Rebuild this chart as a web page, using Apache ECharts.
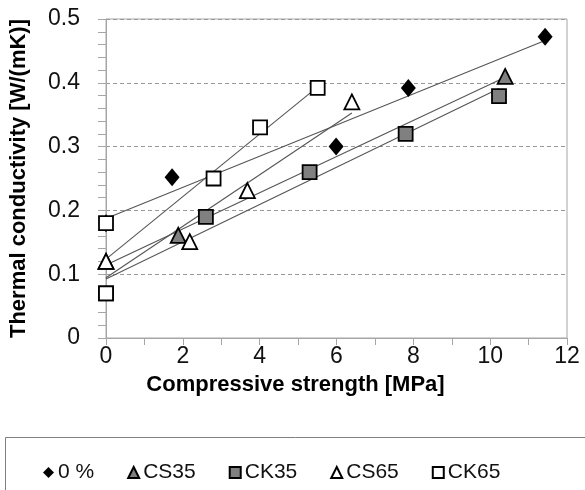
<!DOCTYPE html>
<html><head><meta charset="utf-8">
<script src="https://cdn.jsdelivr.net/npm/echarts@6/dist/echarts.min.js"></script>
<style>html,body{margin:0;padding:0;background:#fff}#c{width:585px;height:490px}</style>
</head><body><div id="c"></div>
<script>
// Data
var seriesNames = ['0 %', 'CS35', 'CK35', 'CS65', 'CK65'];
var zeroX = [0, 1.72, 5.99, 7.87, 11.43];
var zeroY = [0.18, 0.252, 0.30, 0.392, 0.472];
var cs35X = [0, 1.88, 10.39];
var cs35Y = [0.12, 0.161, 0.41];
var ck35X = [0, 2.60, 5.30, 7.80, 10.23];
var ck35Y = [0.07, 0.19, 0.26, 0.32, 0.379];
var cs65X = [0, 2.18, 3.68, 6.40];
var cs65Y = [0.12, 0.151, 0.231, 0.370];
var ck65X = [0, 0, 2.80, 4.01, 5.51];
var ck65Y = [0.18, 0.07, 0.25, 0.33, 0.392];
var xTicks = [0, 2, 4, 6, 8, 10, 12];
var yTicks = [0, 0.1, 0.2, 0.3, 0.4, 0.5];

function pairs(xs, ys) { return xs.map(function (x, i) { return [x, ys[i]]; }); }
// Linear (least squares) trendline spanning the data's x range
function trend(xs, ys) {
  var n = xs.length, mx = 0, my = 0;
  for (var i = 0; i < n; i++) { mx += xs[i]; my += ys[i]; }
  mx /= n; my /= n;
  var sxx = 0, sxy = 0;
  for (i = 0; i < n; i++) { sxx += (xs[i] - mx) * (xs[i] - mx); sxy += (xs[i] - mx) * (ys[i] - my); }
  var b = sxy / sxx, a = my - b * mx;
  var lo = Math.min.apply(null, xs), hi = Math.max.apply(null, xs);
  return [[lo, a + b * lo], [hi, a + b * hi]];
}

var sets = [
  { name: seriesNames[0], xs: zeroX, ys: zeroY, symbol: 'diamond', size: [15, 18], fill: '#000', bw: 0 },
  { name: seriesNames[1], xs: cs35X, ys: cs35Y, symbol: 'triangle', size: 15, fill: '#808080', bw: 1.8 },
  { name: seriesNames[2], xs: ck35X, ys: ck35Y, symbol: 'rect', size: 14, fill: '#808080', bw: 1.8 },
  { name: seriesNames[3], xs: cs65X, ys: cs65Y, symbol: 'triangle', size: 15, fill: '#fff', bw: 1.8 },
  { name: seriesNames[4], xs: ck65X, ys: ck65Y, symbol: 'rect', size: 14, fill: '#fff', bw: 1.8 }
];

var series = [];
sets.forEach(function (s) {
  series.push({
    type: 'line', data: trend(s.xs, s.ys), symbol: 'none', silent: true, z: 2,
    lineStyle: { color: '#555', width: 1.1 }
  });
});
sets.forEach(function (s, i) {
  series.push({
    name: s.name, type: 'scatter', data: pairs(s.xs, s.ys), symbol: s.symbol, symbolSize: s.size, z: 3 + i,
    itemStyle: { color: s.fill, borderColor: '#000', borderWidth: s.bw, opacity: 1 }
  });
});

var font = 'Liberation Sans, Arial, sans-serif';
var chart = echarts.init(document.getElementById('c'), null, { renderer: 'canvas' });
chart.setOption({
  animation: false,
  backgroundColor: '#fff',
  grid: { left: 106, right: 18, top: 19, bottom: 152, show: true, borderColor: '#a6a6a6', borderWidth: 1,
    containLabel: false, outerBoundsMode: 'none' },
  xAxis: {
    type: 'value', min: xTicks[0], max: xTicks[xTicks.length - 1], interval: 2,
    name: 'Compressive strength [MPa]', nameLocation: 'middle', nameGap: 36,
    nameTextStyle: { fontFamily: font, fontSize: 22, fontWeight: 'bold', color: '#000', padding: [0, 82, 0, 0] },
    axisLine: { show: true, lineStyle: { color: '#a6a6a6', width: 1 } },
    axisTick: { show: true, length: 7, lineStyle: { color: '#a6a6a6' } },
    minorTick: { show: true, splitNumber: 2, length: 7, lineStyle: { color: '#a6a6a6' } },
    splitLine: { show: false },
    axisLabel: { fontFamily: font, fontSize: 23, color: '#111', margin: 7 }
  },
  yAxis: {
    type: 'value', min: yTicks[0], max: yTicks[yTicks.length - 1], interval: 0.1,
    name: 'Thermal conductivity [W/(mK)]', nameLocation: 'middle', nameGap: 76, nameRotate: 90,
    nameTextStyle: { fontFamily: font, fontSize: 22, fontWeight: 'bold', color: '#000' },
    axisLine: { show: true, lineStyle: { color: '#a6a6a6', width: 1 } },
    axisTick: { show: true, length: 8, lineStyle: { color: '#a6a6a6' } },
    minorTick: { show: true, splitNumber: 5, length: 8, lineStyle: { color: '#a6a6a6' } },
    splitLine: { show: true, lineStyle: { color: '#999', type: [4, 3], width: 1 } },
    axisLabel: { fontFamily: font, fontSize: 23, color: '#111', margin: 26,
      formatter: function (v) { return v === 0 ? '0' : v.toFixed(1); } }
  },
  legend: {
    data: seriesNames, left: 38, top: 457, itemWidth: 11, itemHeight: 11, itemGap: 33,
    textStyle: { fontFamily: font, fontSize: 21, color: '#111', padding: [0, 0, 0, -1] }
  },
  graphic: [{
    type: 'rect', shape: { x: 5.5, y: 437.5, width: 600, height: 80 }, silent: true,
    style: { fill: 'none', stroke: '#7f7f7f', lineWidth: 1 }
  }],
  series: series
});
</script></body></html>
